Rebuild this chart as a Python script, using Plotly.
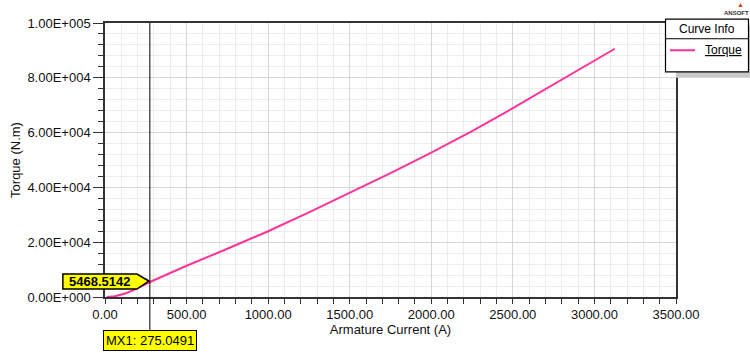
import plotly.graph_objects as go

# ---- data ----
current_a = [10, 60, 120, 175, 275.0491, 500, 750, 1000, 1250, 1500, 1750, 2000, 2250, 2500, 2750, 3000, 3125]
torque_nm = [0, 250, 1200, 2500, 5468.5142, 11400, 17600, 24000, 30900, 38000, 45200, 52700, 60500, 68900, 77500, 86400, 90600]

x_tick_vals = [0, 500, 1000, 1500, 2000, 2500, 3000, 3500]
x_tick_text = ["0.00", "500.00", "1000.00", "1500.00", "2000.00", "2500.00", "3000.00", "3500.00"]
y_tick_vals = [0, 20000, 40000, 60000, 80000, 100000]
y_tick_text = ["0.00E+000", "2.00E+004", "4.00E+004", "6.00E+004", "8.00E+004", "1.00E+005"]

marker_x = 275.0491
marker_y = 5468.5142

X_RANGE = [0, 3500]
Y_RANGE = [0, 100000]

FONT = "Liberation Sans, Arial, sans-serif"
PINK = "#ff3399"

W, H = 750, 353
# plot-area edges in page pixels
L, R, T, B = 105, 676, 23.3, 296.7
PW, PH = R - L, B - T


def px(x):
    return (x - L) / PW


def py(y):
    return (B - y) / PH


fig = go.Figure()
fig.add_trace(go.Scatter(x=current_a, y=torque_nm, mode="lines", name="Torque",
                         line=dict(color=PINK, width=2), showlegend=False))

fig.update_layout(
    width=W, height=H,
    margin=dict(l=L, r=W - R, t=T, b=H - B, autoexpand=False),
    paper_bgcolor="white", plot_bgcolor="white",
    font=dict(family=FONT, size=13, color="#111"),
    xaxis=dict(range=X_RANGE, tickvals=x_tick_vals, ticktext=x_tick_text, automargin=False,
               showline=True, mirror=True, linecolor="#333", linewidth=1.5,
               ticks="outside", ticklen=5, tickcolor="#333",
               showgrid=True, gridcolor="#d6d6d6", gridwidth=1.2, zeroline=False,
               minor=dict(dtick=100, ticks="outside", ticklen=5, tickcolor="#333",
                          showgrid=True, gridcolor="#ececec", gridwidth=1),
               title=dict(text="Armature Current (A)", standoff=0, font=dict(size=13)),
               tickfont=dict(size=13)),
    yaxis=dict(range=Y_RANGE, tickvals=y_tick_vals, ticktext=y_tick_text, automargin=False,
               showline=True, mirror=True, linecolor="#333", linewidth=1.5,
               ticks="outside", ticklen=10, tickcolor="#333",
               showgrid=True, gridcolor="#d6d6d6", gridwidth=1.2, zeroline=False,
               minor=dict(dtick=4000, ticks="outside", ticklen=5, tickcolor="#333",
                          showgrid=True, gridcolor="#ececec", gridwidth=1),
               title=dict(text="Torque (N.m)", standoff=4, font=dict(size=13)),
               tickfont=dict(size=13)),
)

# marker line
fig.add_shape(type="line", xref="x", yref="paper", x0=marker_x, x1=marker_x,
              y0=py(330), y1=1, line=dict(color="black", width=1), layer="above")
fig.add_annotation(xref="x", yref="paper", x=marker_x, y=py(330), xanchor="center", yanchor="top",
                   text="MX1: 275.0491", showarrow=False, bgcolor="#ffff00",
                   bordercolor="black", borderwidth=1, borderpad=2,
                   font=dict(size=13, color="black"))

# value flag (pentagon pointing to the intersection), paper-referenced so it is not clipped
mx_paper = (marker_x - X_RANGE[0]) / (X_RANGE[1] - X_RANGE[0])
my_paper = (marker_y - Y_RANGE[0]) / (Y_RANGE[1] - Y_RANGE[0])
fig.add_shape(type="path", xref="paper", yref="paper", xsizemode="pixel", ysizemode="pixel",
              xanchor=mx_paper, yanchor=my_paper,
              path="M -1 1 L -13 8 L -87 8 L -87 -7 L -13 -7 Z",
              fillcolor="#ffff00", line=dict(color="black", width=1.5), layer="above")
fig.add_annotation(xref="paper", yref="paper", x=mx_paper, y=my_paper, xshift=-50, yshift=1,
                   xanchor="center", yanchor="middle",
                   text="<b>5468.5142</b>", showarrow=False,
                   font=dict(size=13, color="black"))

# custom legend box ("Curve Info")
fig.add_shape(type="rect", xref="paper", yref="paper",
              x0=px(676), x1=px(760), y0=py(78), y1=py(26),
              fillcolor="#c8c8c8", line=dict(width=0), layer="above")
fig.add_shape(type="rect", xref="paper", yref="paper",
              x0=px(665.5), x1=px(748.5), y0=py(72), y1=py(19.5),
              fillcolor="white", line=dict(color="black", width=1.2), layer="above")
fig.add_shape(type="line", xref="paper", yref="paper",
              x0=px(665.5), x1=px(748.5), y0=py(39), y1=py(39),
              line=dict(color="black", width=1), layer="above")
fig.add_shape(type="line", xref="paper", yref="paper",
              x0=px(670), x1=px(695), y0=py(50.5), y1=py(50.5),
              line=dict(color=PINK, width=2), layer="above")
fig.add_annotation(xref="paper", yref="paper", x=px(707), y=py(29.5), xanchor="center", yanchor="middle",
                   text="Curve Info", showarrow=False, font=dict(size=12, color="black"))
fig.add_annotation(xref="paper", yref="paper", x=px(723.5), y=py(50.5), xanchor="center", yanchor="middle",
                   text="<u>Torque</u>", showarrow=False, font=dict(size=12, color="black"))

# logo
fig.add_annotation(xref="paper", yref="paper", x=px(740), y=py(10), xanchor="center", yanchor="bottom",
                   text="▲", showarrow=False, font=dict(size=7, color="#d04020"))
fig.add_annotation(xref="paper", yref="paper", x=px(736), y=py(13), xanchor="center", yanchor="middle",
                   text="<b>ANSOFT</b>", showarrow=False, font=dict(size=6, color="#333"))

fig.write_html("out.html", config={"displayModeBar": False},
               post_script="document.body.style.margin='0';document.body.style.overflow='hidden';")
